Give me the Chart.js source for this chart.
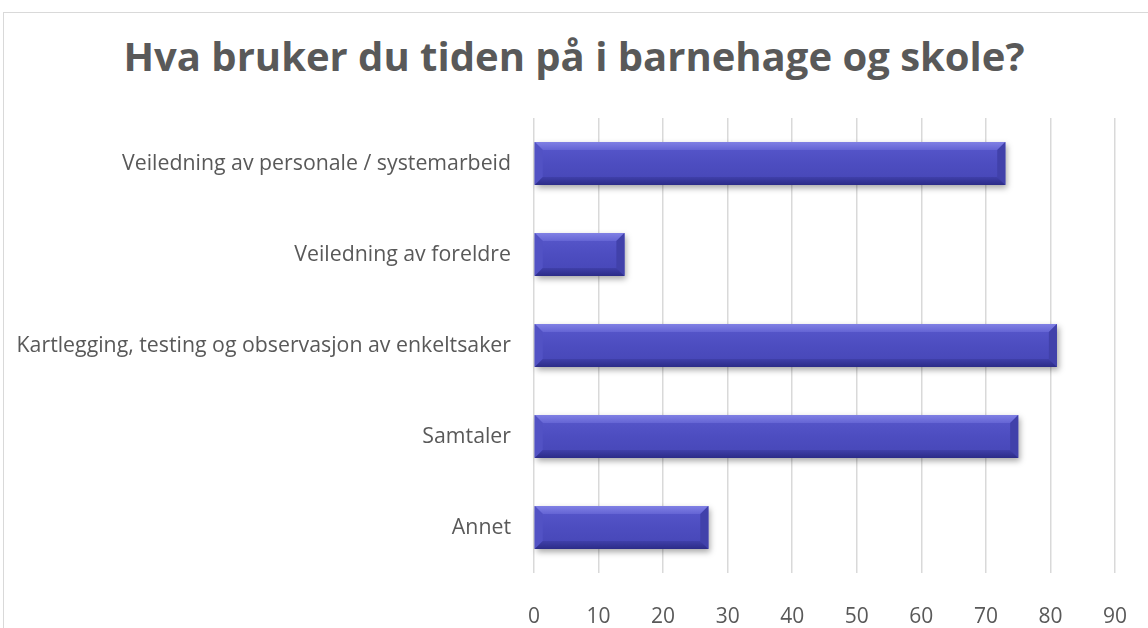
<!DOCTYPE html>
<html>
<head>
<meta charset="utf-8">
<script src="https://cdn.jsdelivr.net/npm/chart.js@4"></script>
<style>
  html, body { margin: 0; padding: 0; background: #fff; overflow: hidden; }
  #wrap { position: relative; width: 1148px; height: 628px; }
  #frame { position: absolute; left: 3px; top: 12px; width: 1160px; height: 640px; border: 1px solid #d9d9d9; box-sizing: border-box; }
  #title { position: absolute; left: 0; width: 1148px; top: 28px; height: 48px; line-height: 48px; margin: 0;
           text-align: center; font: bold 40px 'Open Sans', sans-serif; color: #595959; white-space: nowrap; }
  canvas { position: absolute; left: 0; top: 0; }
</style>
</head>
<body>
<div id="wrap">
  <div id="frame"></div>
  <h1 id="title">Hva bruker du tiden på i barnehage og skole?</h1>
  <canvas id="chart" width="1148" height="628"></canvas>
</div>
<script>
const categories = [
    'Veiledning av personale / systemarbeid',
    'Veiledning av foreldre',
    'Kartlegging, testing og observasjon av enkeltsaker',
    'Samtaler',
    'Annet'
];
const values = [73, 14, 81, 75, 27];
const xTicks = [0, 10, 20, 30, 40, 50, 60, 70, 80, 90];

// bevel look of the bars, drawn over the library's own bar elements
const bevelBars = {
    id: 'bevelBars',
    afterDatasetsDraw(chart) {
        const ctx = chart.ctx;
        chart.getDatasetMeta(0).data.forEach(bar => {
            const l = bar.base, r = bar.x;
            const t = bar.y - bar.height / 2, b = bar.y + bar.height / 2;
            const bv = Math.min(8, (r - l) / 2);
            ctx.save();
            // shadow
            ctx.shadowColor = 'rgba(0,0,0,0.35)';
            ctx.shadowBlur = 6;
            ctx.shadowOffsetX = 2;
            ctx.shadowOffsetY = 3;
            ctx.fillStyle = '#4b4bbd';
            ctx.fillRect(l, t, r - l, b - t);
            ctx.restore();
            ctx.save();
            // face
            const g = ctx.createLinearGradient(0, t, 0, b);
            g.addColorStop(0, '#5858cc');
            g.addColorStop(0.5, '#4d4dc0');
            g.addColorStop(1, '#4646b6');
            ctx.fillStyle = g;
            ctx.fillRect(l, t, r - l, b - t);
            // top bevel
            ctx.beginPath();
            ctx.moveTo(l, t); ctx.lineTo(r, t); ctx.lineTo(r - bv, t + bv); ctx.lineTo(l + bv, t + bv); ctx.closePath();
            const gt = ctx.createLinearGradient(0, t, 0, t + bv);
            gt.addColorStop(0, '#8080e4');
            gt.addColorStop(1, '#6464d4');
            ctx.fillStyle = gt;
            ctx.fill();
            // left bevel
            ctx.beginPath();
            ctx.moveTo(l, t); ctx.lineTo(l + bv, t + bv); ctx.lineTo(l + bv, b - bv); ctx.lineTo(l, b); ctx.closePath();
            ctx.fillStyle = '#5252c4';
            ctx.fill();
            // right bevel
            ctx.beginPath();
            ctx.moveTo(r, t); ctx.lineTo(r, b); ctx.lineTo(r - bv, b - bv); ctx.lineTo(r - bv, t + bv); ctx.closePath();
            ctx.fillStyle = '#4141aa';
            ctx.fill();
            // bottom bevel
            ctx.beginPath();
            ctx.moveTo(l, b); ctx.lineTo(l + bv, b - bv); ctx.lineTo(r - bv, b - bv); ctx.lineTo(r, b); ctx.closePath();
            const gb = ctx.createLinearGradient(0, b - bv, 0, b);
            gb.addColorStop(0, '#4040aa');
            gb.addColorStop(1, '#2c2c88');
            ctx.fillStyle = gb;
            ctx.fill();
            ctx.restore();
        });
    }
};

const ctx = document.getElementById('chart').getContext('2d');
new Chart(ctx, {
    type: 'bar',
    data: {
        labels: categories,
        datasets: [{
            data: values,
            backgroundColor: 'rgba(0,0,0,0)',
            borderWidth: 0,
            barPercentage: 0.47,
            categoryPercentage: 1
        }]
    },
    plugins: [bevelBars],
    options: {
        indexAxis: 'y',
        responsive: false,
        animation: false,
        layout: { padding: { top: 118, right: 33, left: 10, bottom: 0 } },
        plugins: {
            legend: { display: false },
            tooltip: { enabled: false },
            title: { display: false }
        },
        scales: {
            x: {
                min: 0,
                max: 90,
                afterBuildTicks(scale) {
                    scale.ticks = xTicks.map(v => ({ value: v }));
                },
                grid: { color: '#d9d9d9', lineWidth: 1.5, drawTicks: true, tickLength: 31, tickColor: 'rgba(0,0,0,0)' },
                border: { display: false },
                ticks: {
                    color: '#595959',
                    padding: 0,
                    font: { family: 'Open Sans', size: 21 }
                },
                afterFit(scale) { scale.height = 55; }
            },
            y: {
                grid: { display: false, drawTicks: false },
                border: { display: false },
                ticks: {
                    color: '#595959',
                    padding: 23,
                    font: { family: 'Open Sans', size: 21.3 }
                },
                afterFit(scale) { scale.width = 524; }
            }
        }
    }
});
</script>
</body>
</html>
